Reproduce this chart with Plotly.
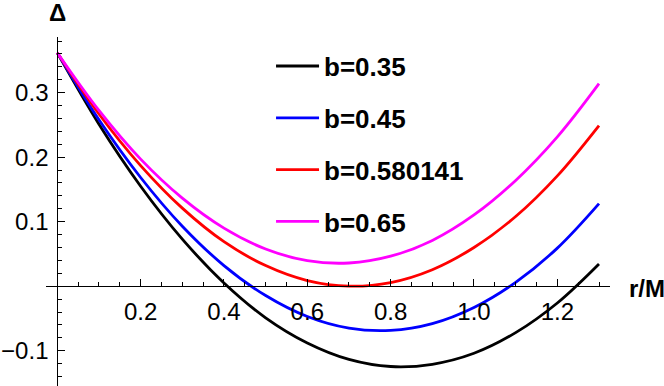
import plotly.graph_objects as go

r_vals = [0.0, 0.1, 0.2, 0.3, 0.4, 0.5, 0.6, 0.7, 0.8, 0.9, 1.0, 1.1, 1.2, 1.3]

delta_b035 = [0.362, 0.251, 0.155, 0.073, 0.005, -0.049, -0.088, -0.1135, -0.1245, -0.121, -0.104, -0.072, -0.026, 0.0345]
delta_b045 = [0.362, 0.258, 0.1685, 0.093, 0.032, -0.0145, -0.047, -0.065, -0.0685, -0.058, -0.033, 0.006, 0.059, 0.128]
delta_b0580141 = [0.362, 0.267, 0.187, 0.121, 0.069, 0.032, 0.0088, 0.0001, 0.0057, 0.0256, 0.060, 0.108, 0.171, 0.249]
delta_b065 = [0.362, 0.2725, 0.197, 0.1365, 0.090, 0.0576, 0.0396, 0.036, 0.0465, 0.071, 0.1105, 0.164, 0.2315, 0.314]

series_names = ["b=0.35", "b=0.45", "b=0.580141", "b=0.65"]
series_values = [delta_b035, delta_b045, delta_b0580141, delta_b065]
series_colors = ["#000000", "#0000ff", "#ff0000", "#ff00ff"]

x_ticks = [0.2, 0.4, 0.6, 0.8, 1.0, 1.2]
x_tick_labels = ["0.2", "0.4", "0.6", "0.8", "1.0", "1.2"]
y_ticks = [-0.1, 0.1, 0.2, 0.3]
y_tick_labels = ["\u22120.1", "0.1", "0.2", "0.3"]

FONT = "Liberation Sans, Arial, sans-serif"

fig = go.Figure()
for i, (name, vals, col) in enumerate(zip(series_names, series_values, series_colors)):
    fig.add_trace(go.Scatter(
        x=r_vals, y=vals, mode="lines", name=name,
        line=dict(color=col, width=2.8, shape="spline", smoothing=1.0),
        legendgroup=f"g{i}",
    ))

x0, x1 = -0.0271, 1.3264
y0, y1 = -0.1547, 0.3863

fig.update_layout(
    width=664, height=386,
    margin=dict(l=46, r=54, t=37, b=0, autoexpand=False),
    paper_bgcolor="white", plot_bgcolor="white",
    font=dict(family=FONT, size=24, color="black"),
    showlegend=True,
    legend=dict(
        x=0.399, y=0.984, xanchor="left", yanchor="top",
        bgcolor="rgba(0,0,0,0)",
        font=dict(family=FONT, size=26, color="black", weight="bold"),
        tracegroupgap=15,
        itemwidth=43,
    ),
    xaxis=dict(
        range=[x0, x1], anchor="free", position=(0 - y0) / (y1 - y0), automargin=False,
        showgrid=False, zeroline=False, showline=True, linecolor="black", linewidth=1,
        tickmode="array", tickvals=x_ticks, ticktext=x_tick_labels,
        ticks="inside", ticklen=7, tickwidth=1, tickcolor="black",
        minor=dict(tickmode="linear", tick0=0, dtick=0.05, ticks="inside", ticklen=4, tickcolor="black", tickwidth=1),
        tickfont=dict(family=FONT, size=24, color="black"),
        ticklabelstandoff=4,
    ),
    yaxis=dict(
        range=[y0, y1], anchor="free", position=(0 - x0) / (x1 - x0), automargin=False,
        showgrid=False, zeroline=False, showline=True, linecolor="black", linewidth=1,
        tickmode="array", tickvals=y_ticks, ticktext=y_tick_labels,
        ticks="inside", ticklen=7, tickwidth=1, tickcolor="black",
        minor=dict(tickmode="linear", tick0=0, dtick=0.02, ticks="inside", ticklen=4, tickcolor="black", tickwidth=1),
        tickfont=dict(family=FONT, size=24, color="black"),
        ticklabelstandoff=4,
    ),
    annotations=[
        dict(text="<b>\u0394</b>", x=0, xref="x", y=1.0716, yref="paper",
             xanchor="center", yanchor="middle", showarrow=False,
             font=dict(family=FONT, size=24, color="black")),
        dict(text="<b>r/M</b>", x=1.030, xref="paper", y=0, yref="y",
             xanchor="left", yanchor="middle", yshift=-2, showarrow=False,
             font=dict(family=FONT, size=24, color="black")),
    ],
)

fig.write_html(
    "out.html",
    config={"displayModeBar": False},
    post_script="document.body.style.margin='0';document.body.style.padding='0';document.body.style.overflow='hidden';",
)
